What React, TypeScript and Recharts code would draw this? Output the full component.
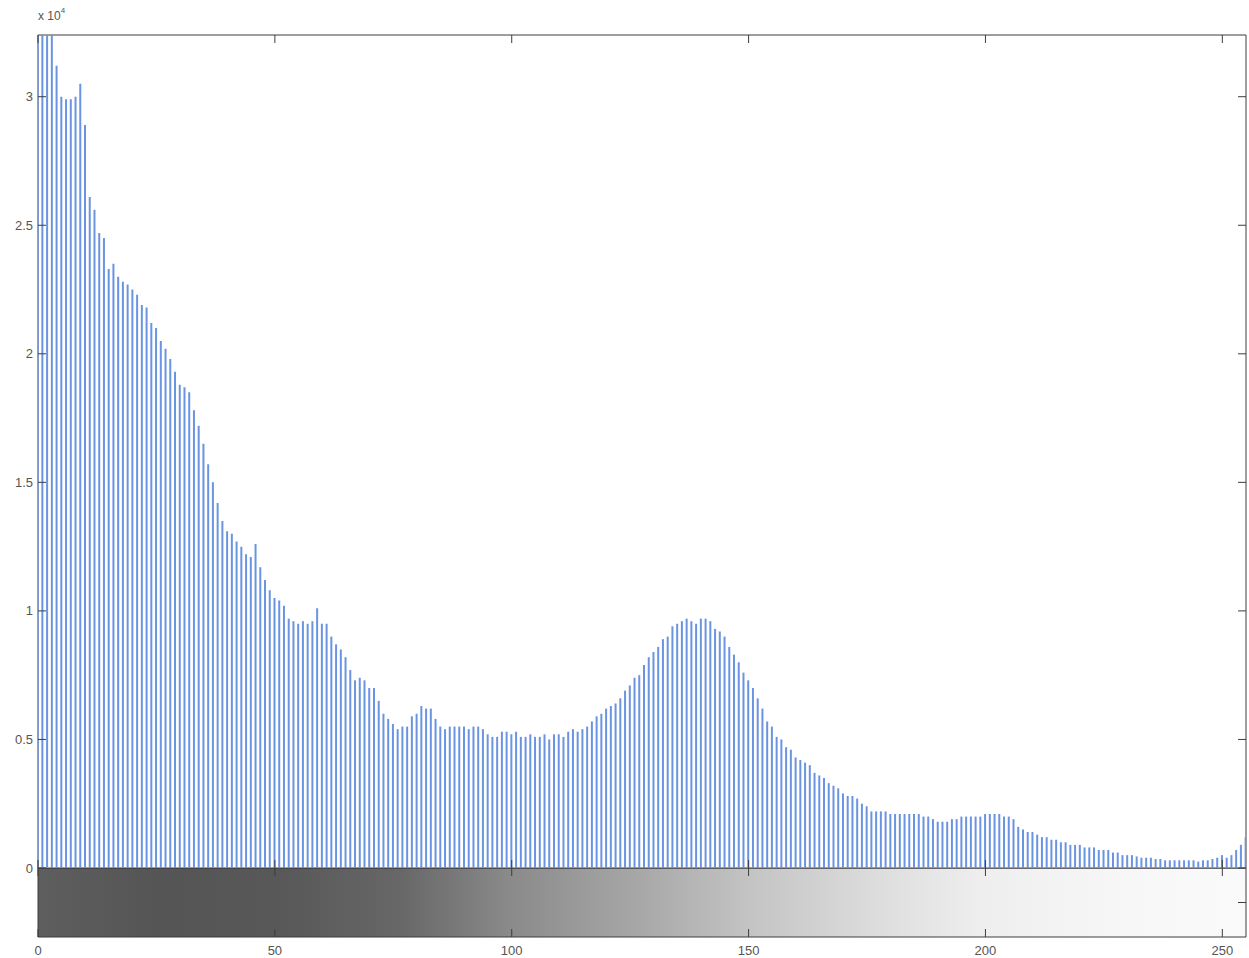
import React from 'react';
import { ComposedChart, Bar, Area, XAxis, YAxis, ReferenceArea } from 'recharts';

// gray levels 0..255 (categories)
const grayLevels: number[] = Array.from({ length: 256 }, (_, i) => i);

// pixel counts per gray level
const counts: number[] = [
  36000, 35000, 34500, 34000, 31200, 30000, 29900, 29900, 30000, 30500,
  28900, 26100, 25600, 24700, 24500, 23300, 23500, 23000, 22800, 22700,
  22500, 22300, 21900, 21800, 21200, 21000, 20500, 20200, 19800, 19300,
  18800, 18700, 18500, 17800, 17200, 16500, 15700, 15000, 14200, 13500,
  13100, 13000, 12700, 12500, 12200, 12100, 12600, 11700, 11200, 10800,
  10500, 10400, 10200, 9700, 9600, 9500, 9600, 9500, 9600, 10100,
  9500, 9500, 9000, 8700, 8500, 8200, 7700, 7300, 7400, 7300,
  7000, 7000, 6500, 6000, 5800, 5600, 5400, 5500, 5500, 5900,
  6000, 6300, 6200, 6200, 5800, 5500, 5400, 5500, 5500, 5500,
  5500, 5400, 5500, 5500, 5400, 5200, 5100, 5100, 5300, 5300,
  5200, 5300, 5100, 5100, 5200, 5100, 5100, 5200, 5000, 5200,
  5200, 5100, 5300, 5400, 5300, 5400, 5500, 5700, 5900, 6000,
  6200, 6300, 6400, 6600, 6900, 7100, 7400, 7500, 7900, 8200,
  8400, 8600, 8900, 9000, 9400, 9500, 9600, 9700, 9600, 9500,
  9700, 9700, 9600, 9300, 9200, 9000, 8600, 8300, 8000, 7600,
  7300, 7000, 6600, 6200, 5700, 5500, 5100, 5000, 4700, 4600,
  4300, 4200, 4100, 4000, 3700, 3600, 3500, 3300, 3200, 3100,
  2900, 2800, 2800, 2700, 2500, 2400, 2200, 2200, 2200, 2200,
  2100, 2100, 2100, 2100, 2100, 2100, 2100, 2000, 2000, 1900,
  1800, 1800, 1800, 1900, 1900, 2000, 2000, 2000, 2000, 2000,
  2100, 2100, 2100, 2100, 2000, 2000, 1900, 1600, 1500, 1400,
  1400, 1300, 1200, 1200, 1100, 1100, 1000, 1000, 900, 900,
  900, 800, 800, 800, 700, 700, 700, 600, 600, 500,
  500, 500, 450, 400, 400, 400, 350, 350, 300, 300,
  300, 300, 300, 300, 300, 250, 300, 300, 350, 400,
  500, 400, 500, 700, 900, 1200,
];

const yTicks: number[] = [0, 5000, 10000, 15000, 20000, 25000, 30000];
const yTickLabels: string[] = ['0', '0.5', '1', '1.5', '2', '2.5', '3'];
const xTicks: number[] = [0, 50, 100, 150, 200, 250];
const xTickLabels: string[] = ['0', '50', '100', '150', '200', '250'];
const colorbarTicks: number[] = [0.5];
const Y_MAX = 32400;
const X_MAX = 255;

const histData = grayLevels.map((level, i) => ({ level, count: counts[i] }));
// colour bar: every gray level spans the full height of the bar
const colorbarData = grayLevels.map((level) => ({ level, band: 1 }));

// layout constants
const WIDTH = 1249;
const PLOT_LEFT = 38;
const PLOT_RIGHT = 1246;
const HIST_TOP = 35;
const HIST_BOTTOM = 868;
const CHART1_HEIGHT = 880;
const CB_HEIGHT = 69;
const CHART2_HEIGHT = 90;
const TICK_LEN = 8;
const AXIS_COLOR = '#3d3d3d';
const TEXT_COLOR = '#555555';
const FONT = '"Liberation Sans", Arial, sans-serif';

const HistYTick = (props: any) => {
  const y = props.payload?.coordinate ?? props.y;
  const idx = yTicks.indexOf(props.payload?.value);
  return (
    <g>
      <text x={PLOT_LEFT - 5} y={y} dy="0.35em" textAnchor="end" fontSize={13} fontFamily={FONT} fill={TEXT_COLOR}>
        {idx >= 0 ? yTickLabels[idx] : ''}
      </text>
      <line x1={PLOT_LEFT} x2={PLOT_LEFT + TICK_LEN} y1={y} y2={y} stroke={AXIS_COLOR} strokeWidth={1} />
      <line x1={PLOT_RIGHT - TICK_LEN} x2={PLOT_RIGHT} y1={y} y2={y} stroke={AXIS_COLOR} strokeWidth={1} />
    </g>
  );
};

const HistXTick = (props: any) => {
  const x = props.payload?.coordinate ?? props.x;
  return (
    <g>
      <line x1={x} x2={x} y1={HIST_TOP} y2={HIST_TOP + TICK_LEN} stroke={AXIS_COLOR} strokeWidth={1} />
      <line x1={x} x2={x} y1={HIST_BOTTOM - TICK_LEN} y2={HIST_BOTTOM} stroke={AXIS_COLOR} strokeWidth={1} />
    </g>
  );
};

const CbXTick = (props: any) => {
  const x = props.payload?.coordinate ?? props.x;
  const idx = xTicks.indexOf(props.payload?.value);
  return (
    <g>
      <line x1={x} x2={x} y1={0} y2={TICK_LEN} stroke={AXIS_COLOR} strokeWidth={1} />
      <line x1={x} x2={x} y1={CB_HEIGHT - TICK_LEN} y2={CB_HEIGHT} stroke={AXIS_COLOR} strokeWidth={1} />
      <text x={x} y={CB_HEIGHT + 18} textAnchor="middle" fontSize={13} fontFamily={FONT} fill={TEXT_COLOR}>
        {idx >= 0 ? xTickLabels[idx] : ''}
      </text>
    </g>
  );
};

const CbYTick = (props: any) => {
  const y = props.payload?.coordinate ?? props.y;
  return (
    <g>
      <line x1={PLOT_RIGHT - TICK_LEN} x2={PLOT_RIGHT} y1={y} y2={y} stroke={AXIS_COLOR} strokeWidth={1} />
    </g>
  );
};

export default function App() {
  return (
    <div style={{ position: 'absolute', left: 0, top: 0, width: WIDTH, height: 958, background: '#ffffff' }}>
      <svg style={{ position: 'absolute', left: 0, top: 0 }} width={0} height={0}>
        <defs>
          <linearGradient id="grayBar" x1="0" y1="0" x2="1" y2="0">
            <stop offset="0" stopColor="#5e5e5e" />
            <stop offset="0.1" stopColor="#555555" />
            <stop offset="0.2" stopColor="#585858" />
            <stop offset="0.3" stopColor="#676767" />
            <stop offset="0.39" stopColor="#8a8a8a" />
            <stop offset="0.5" stopColor="#a8a8a8" />
            <stop offset="0.59" stopColor="#c4c4c4" />
            <stop offset="0.7" stopColor="#dedede" />
            <stop offset="0.78" stopColor="#eeeeee" />
            <stop offset="0.9" stopColor="#f7f7f7" />
            <stop offset="1" stopColor="#fafafa" />
          </linearGradient>
        </defs>
      </svg>
      <svg style={{ position: 'absolute', left: 0, top: 0 }} width={120} height={30}>
        <text x={PLOT_LEFT} y={20} fontSize={12} fontFamily={FONT} fill={TEXT_COLOR}>
          x 10<tspan dy={-7} fontSize={8}>4</tspan>
        </text>
      </svg>
      <div style={{ position: 'absolute', left: 0, top: HIST_BOTTOM }}>
        <ComposedChart width={WIDTH} height={CHART2_HEIGHT} data={colorbarData} margin={{ top: 0, right: WIDTH - PLOT_RIGHT - 1, bottom: 0, left: PLOT_LEFT }}>
          <XAxis
            dataKey="level"
            type="number"
            domain={[0, X_MAX]}
            ticks={xTicks}
            height={CHART2_HEIGHT - CB_HEIGHT}
            axisLine={false}
            tickLine={false}
            tick={<CbXTick />}
            interval={0}
          />
          <YAxis
            orientation="right"
            type="number"
            domain={[0, 1]}
            ticks={colorbarTicks}
            width={1}
            axisLine={false}
            tickLine={false}
            tick={<CbYTick />}
            interval={0}
          />
          <Area
            dataKey="band"
            type="linear"
            fill="url(#grayBar)"
            fillOpacity={1}
            stroke="none"
            isAnimationActive={false}
            dot={false}
            activeDot={false}
          />
          <ReferenceArea x1={0} x2={X_MAX} y1={0} y2={1} fill="none" fillOpacity={0} stroke={AXIS_COLOR} strokeWidth={1} ifOverflow="visible" />
        </ComposedChart>
      </div>
      <div style={{ position: 'absolute', left: 0, top: 0 }}>
        <ComposedChart width={WIDTH} height={CHART1_HEIGHT} data={histData} margin={{ top: HIST_TOP, right: WIDTH - PLOT_RIGHT, bottom: CHART1_HEIGHT - HIST_BOTTOM - 1, left: 0 }}>
          <XAxis
            dataKey="level"
            type="number"
            domain={[0, X_MAX]}
            ticks={xTicks}
            height={1}
            axisLine={false}
            tickLine={false}
            tick={<HistXTick />}
            allowDataOverflow
          />
          <YAxis
            type="number"
            domain={[0, Y_MAX]}
            ticks={yTicks}
            width={PLOT_LEFT}
            axisLine={false}
            tickLine={false}
            tick={<HistYTick />}
            interval={0}
            allowDataOverflow
          />
          <Bar dataKey="count" fill="#6a94e2" barSize={2} isAnimationActive={false} />
          <ReferenceArea x1={0} x2={X_MAX} y1={0} y2={Y_MAX} fill="none" stroke={AXIS_COLOR} strokeWidth={1} fillOpacity={0} ifOverflow="visible" />
        </ComposedChart>
      </div>
    </div>
  );
}
